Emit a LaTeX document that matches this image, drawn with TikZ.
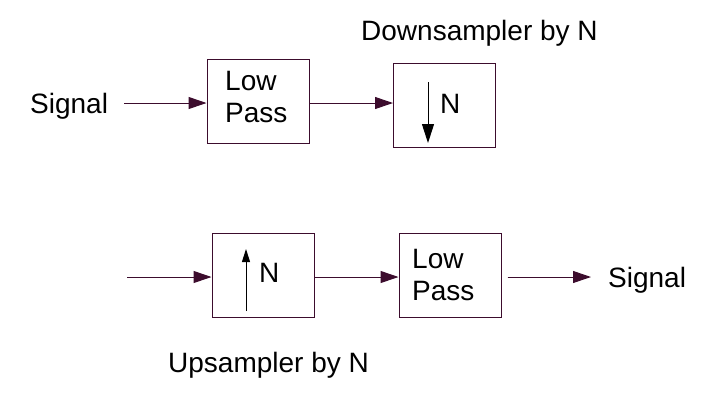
\documentclass[tikz,border=0pt]{standalone}
\usepackage{fontspec}
\setmainfont{Liberation Sans}
\usepackage{tikz}
\usetikzlibrary{arrows.meta}
\usepackage{xcolor}
\definecolor{wire}{RGB}{60,12,45}

\begin{document}
\begin{tikzpicture}[
  x=1pt,y=-1pt,
  txt/.style={inner sep=0pt,anchor=base west,font=\fontsize{28}{33}\selectfont,name=#1},
  box/.style={rectangle,draw=wire,line width=1pt,minimum width=102pt,minimum height=84pt,inner sep=0pt},
  arr/.style={draw=wire,line width=1pt,-{Triangle[length=18pt,width=12pt]},fill=wire},
  big/.style={line width=1pt,-{Triangle[length=19pt,width=12pt]}},
  small/.style={line width=1pt,-{Triangle[length=13pt,width=8pt]}}
  ]
\useasboundingbox (0,0) rectangle (715,408);
\def\ytop{103}
\def\ybot{277}
% downsampler row
\node[txt=sig1] at (30,113) {Signal};
\node[box] (lp1) at (258,101) {};
\node[box] (ds) at (444.5,105) {};
\node[txt=low1] at (225,90) {Low};
\node[txt=pass1] at (225,122) {Pass};
\node[txt=n1] at (440,113) {N};
\node[txt=dstitle] at (361,40) {Downsampler by N};
\coordinate (dtop) at (428,82);
\coordinate (dbot) at (428,143);
\draw[arr,shorten <=16pt] (sig1.east |- 0,\ytop) -- (lp1.west |- 0,\ytop);
\draw[arr] (lp1.east |- 0,\ytop) -- (ds.west |- 0,\ytop);
\draw[big] (dtop) -- (dbot);
% upsampler row
\coordinate (in2) at (127,\ybot);
\node[box] (us) at (263,275) {};
\node[box] (lp2) at (450,275) {};
\node[txt=n2] at (259,282) {N};
\node[txt=low2] at (412,268) {Low};
\node[txt=pass2] at (412,300) {Pass};
\node[txt=sig2] at (608,287) {Signal};
\node[txt=ustitle] at (168,372) {Upsampler by N};
\coordinate (ubot) at (246,311);
\coordinate (utop) at (246,249);
\draw[arr] (in2) -- (us.west |- in2);
\draw[arr] (us.east |- in2) -- (lp2.west |- in2);
\draw[arr,shorten <=6pt,shorten >=17pt] (lp2.east |- in2) -- (sig2.west |- in2);
\draw[small] (ubot) -- (utop);
\end{tikzpicture}
\end{document}
